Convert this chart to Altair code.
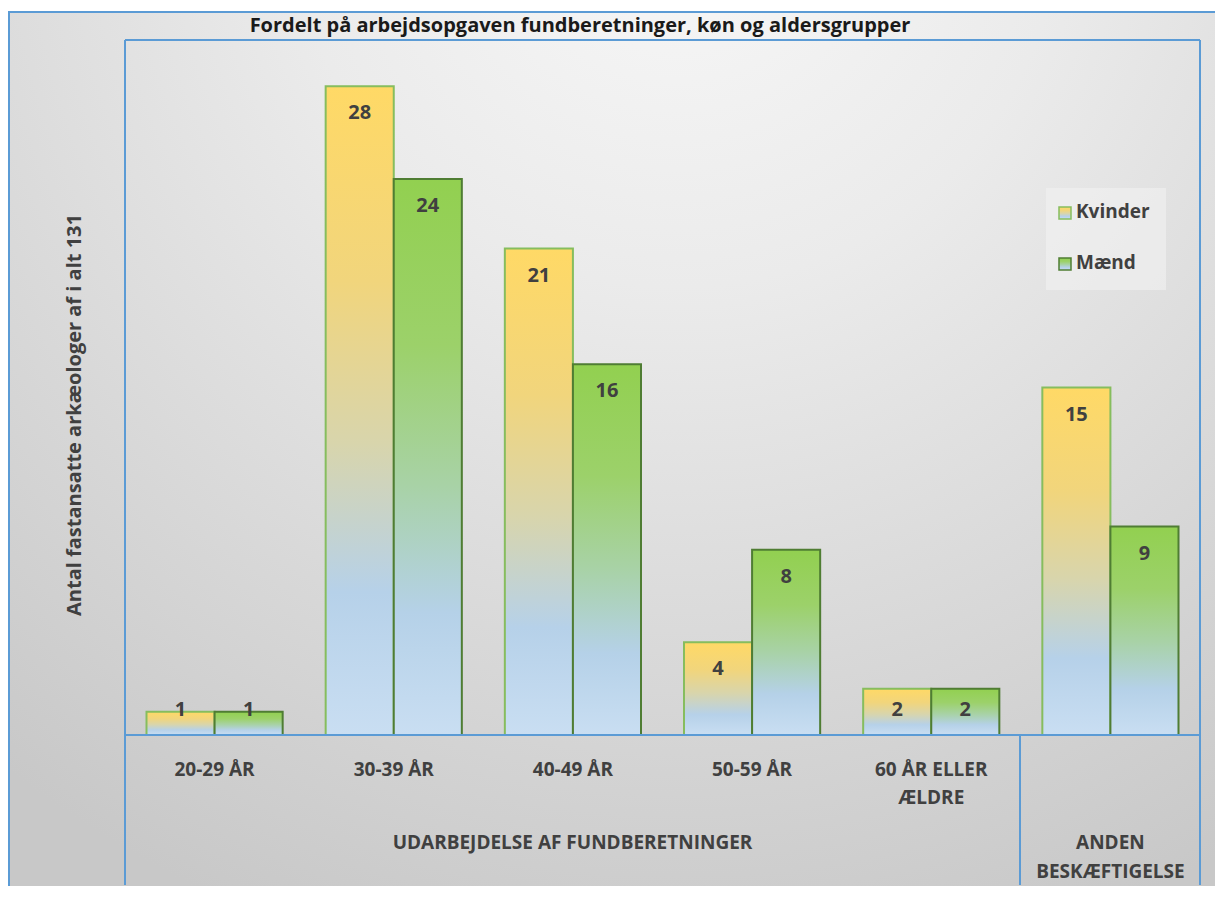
import altair as alt
import pandas as pd

# ---------------- data ----------------
categories = ["20-29 ÅR", "30-39 ÅR", "40-49 ÅR", "50-59 ÅR", "60 ÅR ELLER ÆLDRE", "ANDEN BESKÆFTIGELSE"]
sub_labels = ["20-29 ÅR", "30-39 ÅR", "40-49 ÅR", "50-59 ÅR", "60 ÅR ELLER\nÆLDRE", ""]
group_labels = ["UDARBEJDELSE AF FUNDBERETNINGER"] * 5 + ["ANDEN\nBESKÆFTIGELSE"]
kvinder = [1, 28, 21, 4, 2, 15]
maend = [1, 24, 16, 8, 2, 9]
series = ["Kvinder", "Mænd"]
title_text = "Fordelt på arbejdsopgaven fundberetninger, køn og aldersgrupper"
y_title = "Antal fastansatte arkæologer af i alt 131"

rows = []
for c, k, m in zip(categories, kvinder, maend):
    rows.append({"cat": c, "g": series[0], "v": k})
    rows.append({"cat": c, "g": series[1], "v": m})
df = pd.DataFrame(rows)
cat_df = pd.DataFrame({"cat": categories, "sub": sub_labels, "grp": group_labels})
one = pd.DataFrame({"d": [0]})

# ---------------- styling ----------------
FONT = "Open Sans"
TXT = "#404040"
BLUE = "#5B9BD5"
W, H = 1075, 695


def lin(stops):
    return {"gradient": "linear", "x1": 0, "y1": 0, "x2": 0, "y2": 1,
            "stops": [{"offset": o, "color": c} for o, c in stops]}


grad_k = lin([(0, "#FFD966"), (0.3, "#F1D57C"), (0.55, "#D8D5AC"), (0.78, "#B6D1E9"), (1, "#C9DEF2")])
grad_m = lin([(0, "#92D050"), (0.3, "#9CD16A"), (0.55, "#A8D2A6"), (0.78, "#B5D1E8"), (1, "#C9DEF2")])
bg_grad = {"gradient": "radial", "x1": 0.55, "y1": 0.05, "r1": 0, "x2": 0.55, "y2": 0.05, "r2": 0.9,
           "stops": [{"offset": 0, "color": "#F8F8F8"}, {"offset": 0.35, "color": "#EBEBEB"},
                     {"offset": 0.7, "color": "#D8D8D8"}, {"offset": 1, "color": "#C8C8C8"}]}

xs = alt.Scale(domain=categories, paddingInner=0.24, paddingOuter=0.12)
X = alt.X("cat:N", sort=categories, scale=xs, axis=None)
XO = alt.XOffset("g:N", scale=alt.Scale(domain=series, paddingInner=0, paddingOuter=0))
ys = alt.Scale(domain=[0, 30], nice=False, zero=True)

base = alt.Chart(df)

bg = alt.Chart(one).mark_rect(fill=bg_grad).encode(
    x=alt.value(-117), x2=alt.value(1100), y=alt.value(-28), y2=alt.value(850))

bars_k = base.transform_filter(alt.datum.g == series[0]).mark_bar(
    fill=grad_k, stroke="#86BD5E", strokeWidth=2).encode(
    x=X, xOffset=XO, y=alt.Y("v:Q", scale=ys, axis=None))
bars_m = base.transform_filter(alt.datum.g == series[1]).mark_bar(
    fill=grad_m, stroke="#4F7D33", strokeWidth=2).encode(
    x=X, xOffset=XO, y=alt.Y("v:Q", scale=ys, axis=None))

vals = base.transform_calculate(lp="max(datum.v, 2.25)").mark_text(
    font=FONT, fontSize=20, fontWeight="bold", color=TXT, dy=27, baseline="middle").encode(
    x=X, xOffset=XO, y=alt.Y("lp:Q", scale=ys, axis=None), text="v:Q")


def rule(x, y, x2=None, y2=None):
    enc = {"x": alt.value(x), "y": alt.value(y)}
    if x2 is not None:
        enc["x2"] = alt.value(x2)
    if y2 is not None:
        enc["y2"] = alt.value(y2)
    return alt.Chart(one).mark_rule(color=BLUE, strokeWidth=2).encode(**enc)


rules = [
    rule(-200, -28, x2=1200),          # outer frame top
    rule(-116, -28, y2=900),           # outer frame left
    rule(0, 0, y2=845),                # plot left
    rule(0, 0, x2=W),                  # plot top
    rule(W, 0, y2=845),                # plot right
    rule(0, H, x2=W),                  # baseline
    rule(895, H, y2=845),              # group divider
]

cat_chart = alt.Chart(cat_df)
sub_text = cat_chart.mark_text(font=FONT, fontSize=19, fontWeight="bold", color=TXT,
                               baseline="alphabetic", lineBreak="\n", lineHeight=28).encode(
    x=X, y=alt.value(736), text="sub:N")
grp_main = alt.Chart(one).mark_text(font=FONT, fontSize=19, fontWeight="bold", color=TXT,
                                    baseline="alphabetic", text=group_labels[0]).encode(
    x=alt.value(447.5), y=alt.value(809))
grp_other = cat_chart.transform_filter(alt.datum.cat == categories[-1]).mark_text(
    font=FONT, fontSize=19, fontWeight="bold", color=TXT, baseline="alphabetic",
    lineBreak="\n", lineHeight=29).encode(x=X, y=alt.value(809), text="grp:N")

ytitle = alt.Chart(one).mark_text(font=FONT, fontSize=20, fontWeight="bold", color=TXT,
                                  angle=270, baseline="middle", text=y_title).encode(
    x=alt.value(-50), y=alt.value(375))
title = alt.Chart(one).mark_text(font=FONT, fontSize=20, fontWeight="bold", color="#1A1A1A",
                                 baseline="alphabetic", text=title_text).encode(
    x=alt.value(455), y=alt.value(-8))

# legend
leg_box = alt.Chart(one).mark_rect(fill="#F2F2F2", opacity=0.6).encode(
    x=alt.value(921), x2=alt.value(1041), y=alt.value(148), y2=alt.value(250))
sw_k = alt.Chart(one).mark_rect(fill=grad_k, stroke="#86BD5E", strokeWidth=1.5).encode(
    x=alt.value(934), x2=alt.value(946), y=alt.value(167), y2=alt.value(179))
sw_m = alt.Chart(one).mark_rect(fill=grad_m, stroke="#4F7D33", strokeWidth=1.5).encode(
    x=alt.value(934), x2=alt.value(946), y=alt.value(218), y2=alt.value(230))
lt_k = alt.Chart(one).mark_text(font=FONT, fontSize=19, fontWeight="bold", color=TXT, align="left",
                                baseline="middle", text=series[0]).encode(x=alt.value(951), y=alt.value(172))
lt_m = alt.Chart(one).mark_text(font=FONT, fontSize=19, fontWeight="bold", color=TXT, align="left",
                                baseline="middle", text=series[1]).encode(x=alt.value(951), y=alt.value(223))

chart = alt.layer(
    bg, bars_k, bars_m, *rules, vals, sub_text, grp_main, grp_other, ytitle, title,
    leg_box, sw_k, sw_m, lt_k, lt_m
).properties(
    width=W, height=H,
    autosize=alt.AutoSizeParams(type="none"),
    padding={"left": 117, "top": 32, "right": 15, "bottom": 151},
    background="white",
).configure_view(stroke=None)

chart.save("out.html", embed_options={"renderer": "svg", "actions": False})
